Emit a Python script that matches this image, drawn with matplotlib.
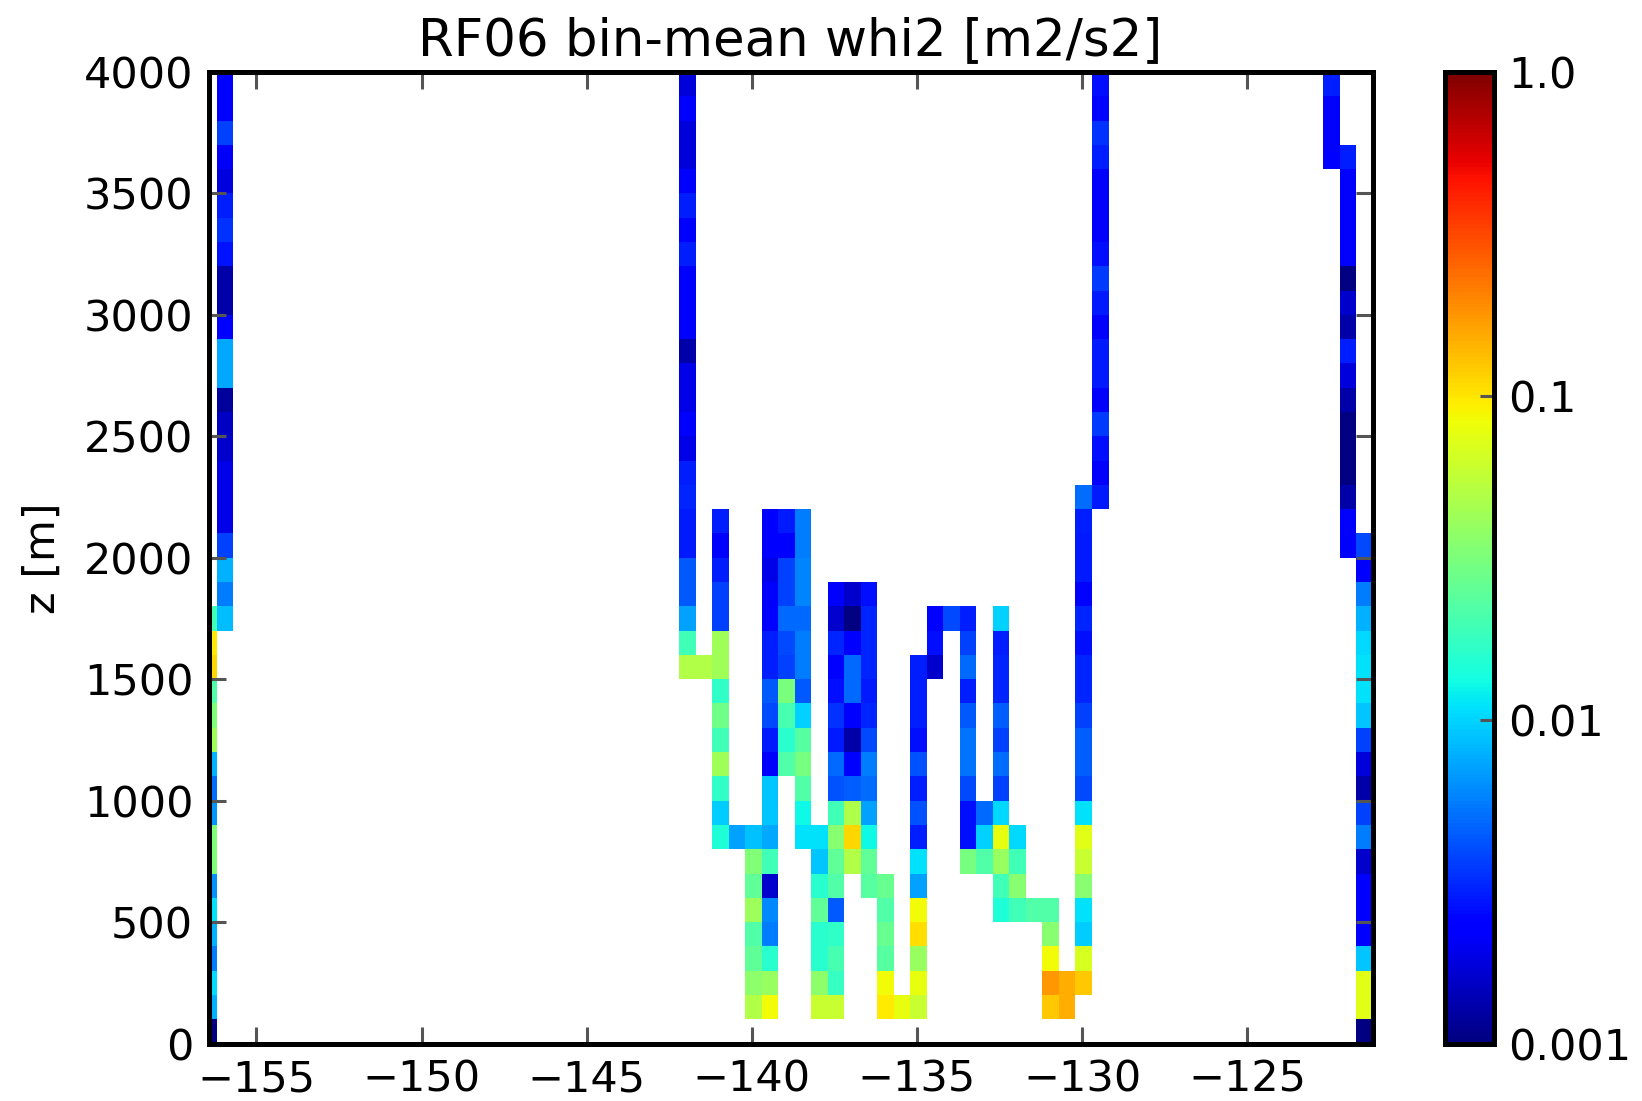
import numpy as np
import matplotlib
matplotlib.use("Agg")
import matplotlib.pyplot as plt
from matplotlib.colors import LogNorm

plt.rcParams['font.family'] = ['DejaVu Sans']

# bin edges: 0.5 deg longitude bins, 100 m altitude bins
lon_edges = np.round(-156.7 + 0.5 * np.arange(72), 2)
z_edges = np.arange(0, 4001, 100)

# bin-mean whi2 [m2/s2]; each column listed bottom-up from its first filled z bin
c00_start, c00 = 0, [0.001, 0.0079, 0.0105, 0.0056, 0.0079, 0.0108, 0.0063, 0.0327, 0.0327, 0.0066,
                     0.005, 0.0078, 0.043, 0.0327, 0.0219, 0.111, 0.098, 0.0192]
c01_start, c01 = 17, [0.0086, 0.0056, 0.0078, 0.0037, 0.0019, 0.0019, 0.0019, 0.0016, 0.0015, 0.0012,
                      0.0074, 0.0074, 0.0023, 0.0013, 0.0013, 0.0027, 0.0033, 0.0029, 0.0018, 0.0021,
                      0.0037, 0.0023, 0.0023]
c29_start, c29 = 15, [0.05, 0.0192, 0.007, 0.0043, 0.0043, 0.0028, 0.0028, 0.0031, 0.0029, 0.0019,
                      0.0023, 0.0019, 0.0019, 0.0013, 0.0023, 0.0023, 0.0023, 0.0029, 0.0023, 0.0029,
                      0.0023, 0.00175, 0.00175, 0.0023, 0.00175]
c30_start, c30 = 15, [0.05]
c31_start, c31 = 8, [0.0147, 0.0094, 0.0167, 0.0427, 0.0192, 0.0285, 0.0167, 0.0427, 0.0427, 0.0037,
                     0.0037, 0.0029, 0.0023, 0.0029]
c32_start, c32 = 8, [0.007]
c33_start, c33 = 1, [0.05, 0.037, 0.025, 0.022, 0.042, 0.025, 0.0327, 0.0087]
c34_start, c34 = 1, [0.084, 0.04, 0.0157, 0.0056, 0.006, 0.0016, 0.0192, 0.0074, 0.0091, 0.0091,
                     0.0023, 0.0028, 0.0039, 0.0043, 0.0029, 0.0029, 0.0023, 0.0023, 0.0019, 0.0023,
                     0.0023]
c35_start, c35 = 11, [0.0219, 0.0157, 0.0204, 0.031, 0.0037, 0.0039, 0.0048, 0.0037, 0.0037, 0.0023,
                      0.0028]
c36_start, c36 = 8, [0.0108, 0.0129, 0.0219, 0.0305, 0.0234, 0.0097, 0.0043, 0.0056, 0.0056, 0.0048,
                     0.0059, 0.0059, 0.0056, 0.0056]
c37_start, c37 = 1, [0.06, 0.037, 0.0157, 0.0157, 0.025, 0.0157, 0.0091, 0.0108]
c38_start, c38 = 1, [0.06, 0.0179, 0.0204, 0.0167, 0.0043, 0.0219, 0.025, 0.035, 0.0192, 0.0041,
                     0.0048, 0.0028, 0.0033, 0.0026, 0.0023, 0.0031, 0.0016, 0.0023]
c39_start, c39 = 7, [0.05, 0.111, 0.048, 0.0045, 0.0023, 0.0013, 0.0023, 0.0048, 0.0048, 0.0023,
                     0.001, 0.0016]
c40_start, c40 = 6, [0.0234, 0.025, 0.0129, 0.007, 0.005, 0.0056, 0.0039, 0.0031, 0.0028, 0.0031,
                     0.0031, 0.0031, 0.0026]
c41_start, c41 = 1, [0.098, 0.084, 0.0234, 0.0268, 0.0219, 0.0268]
c42_start, c42 = 1, [0.0785]
c43_start, c43 = 1, [0.06, 0.0785, 0.04, 0.105, 0.084, 0.007, 0.0108, 0.0029, 0.0041, 0.0029,
                     0.0041, 0.0026, 0.0029, 0.0029, 0.0029]
c44_start, c44 = 15, [0.0016, 0.0026, 0.0023]
c45_start, c45 = 17, [0.0039]
c46_start, c46 = 7, [0.0305, 0.0026, 0.0026, 0.0039, 0.0053, 0.0053, 0.0043, 0.0029, 0.0048, 0.0037,
                     0.0029]
c47_start, c47 = 7, [0.0219, 0.0097, 0.0048]
c48_start, c48 = 5, [0.0147, 0.0192, 0.04, 0.0785, 0.0102, 0.0037, 0.005, 0.0037, 0.0045, 0.0031,
                     0.0031, 0.0029, 0.0097]
c49_start, c49 = 5, [0.0192, 0.035, 0.0192, 0.0102]
c50_start, c50 = 5, [0.0219]
c51_start, c51 = 1, [0.125, 0.176, 0.084, 0.035, 0.0219]
c52_start, c52 = 1, [0.151, 0.151]
c53_start, c53 = 2, [0.125, 0.0686, 0.0094, 0.0108, 0.035, 0.06, 0.0735, 0.0108, 0.0039, 0.0045,
                     0.0045, 0.0037, 0.0031, 0.0031, 0.0026, 0.0031, 0.0023, 0.0028, 0.0028, 0.0029,
                     0.005]
c54_start, c54 = 22, [0.0028, 0.0023, 0.0026, 0.0035, 0.0023, 0.0028, 0.0028, 0.0023, 0.0028, 0.0035,
                      0.0026, 0.0023, 0.0023, 0.0023, 0.0029, 0.0033, 0.0025, 0.0026]
c68_start, c68 = 36, [0.0023, 0.0023, 0.0023, 0.0029]
c69_start, c69 = 20, [0.0023, 0.0023, 0.0013, 0.001, 0.001, 0.001, 0.0013, 0.00175, 0.0029, 0.0013,
                      0.0016, 0.001, 0.0023, 0.0023, 0.0023, 0.0023, 0.0029]
c70_start, c70 = 0, [0.001, 0.0735, 0.0735, 0.0091, 0.0023, 0.0023, 0.0023, 0.0016, 0.0056, 0.0037,
                     0.0013, 0.00175, 0.0037, 0.0091, 0.0108, 0.0108, 0.0102, 0.0079, 0.0056, 0.0023,
                     0.0039]

columns = [
    (0, c00_start, c00), (1, c01_start, c01), (29, c29_start, c29), (30, c30_start, c30),
    (31, c31_start, c31), (32, c32_start, c32), (33, c33_start, c33), (34, c34_start, c34),
    (35, c35_start, c35), (36, c36_start, c36), (37, c37_start, c37), (38, c38_start, c38),
    (39, c39_start, c39), (40, c40_start, c40), (41, c41_start, c41), (42, c42_start, c42),
    (43, c43_start, c43), (44, c44_start, c44), (45, c45_start, c45), (46, c46_start, c46),
    (47, c47_start, c47), (48, c48_start, c48), (49, c49_start, c49), (50, c50_start, c50),
    (51, c51_start, c51), (52, c52_start, c52), (53, c53_start, c53), (54, c54_start, c54),
    (68, c68_start, c68), (69, c69_start, c69), (70, c70_start, c70),
]

grid = np.full((len(z_edges) - 1, len(lon_edges) - 1), np.nan)
for k, r0, vals in columns:
    grid[r0:r0 + len(vals), k] = vals
grid = np.ma.masked_invalid(grid)

fs = 31
fig = plt.figure(figsize=(16.42, 11.01), dpi=100, facecolor='white')
ax = fig.add_axes([0.127, 0.0522, 0.709, 0.8824])
mesh = ax.pcolormesh(lon_edges, z_edges, grid, cmap='jet',
                     norm=LogNorm(vmin=0.001, vmax=1.0), shading='flat')
ax.set_xlim(-156.45, -121.2)
ax.set_ylim(0, 4000)
ax.set_xticks([-155, -150, -145, -140, -135, -130, -125])
ax.set_yticks(np.arange(0, 4001, 500))
ax.tick_params(direction='in', length=12, width=2.2, color='#555555',
               top=True, right=True, labelsize=fs, pad=11)
for s in ax.spines.values():
    s.set_linewidth(3.6)
ax.set_title('RF06 bin-mean whi2 [m2/s2]', fontsize=37, pad=12)
ax.set_ylabel('z [m]', fontsize=fs, labelpad=14)

cax = fig.add_axes([0.880, 0.0522, 0.0301, 0.8824])
cb = fig.colorbar(mesh, cax=cax, ticks=[0.001, 0.01, 0.1, 1.0])
cb.ax.set_yticklabels(['0.001', '0.01', '0.1', '1.0'])
cb.ax.minorticks_off()
cb.ax.tick_params(direction='in', length=10, width=2.2, color='#555555',
                  labelsize=fs, pad=10)
cb.outline.set_linewidth(3.6)

fig.savefig('out.png', dpi=100, facecolor='white')
